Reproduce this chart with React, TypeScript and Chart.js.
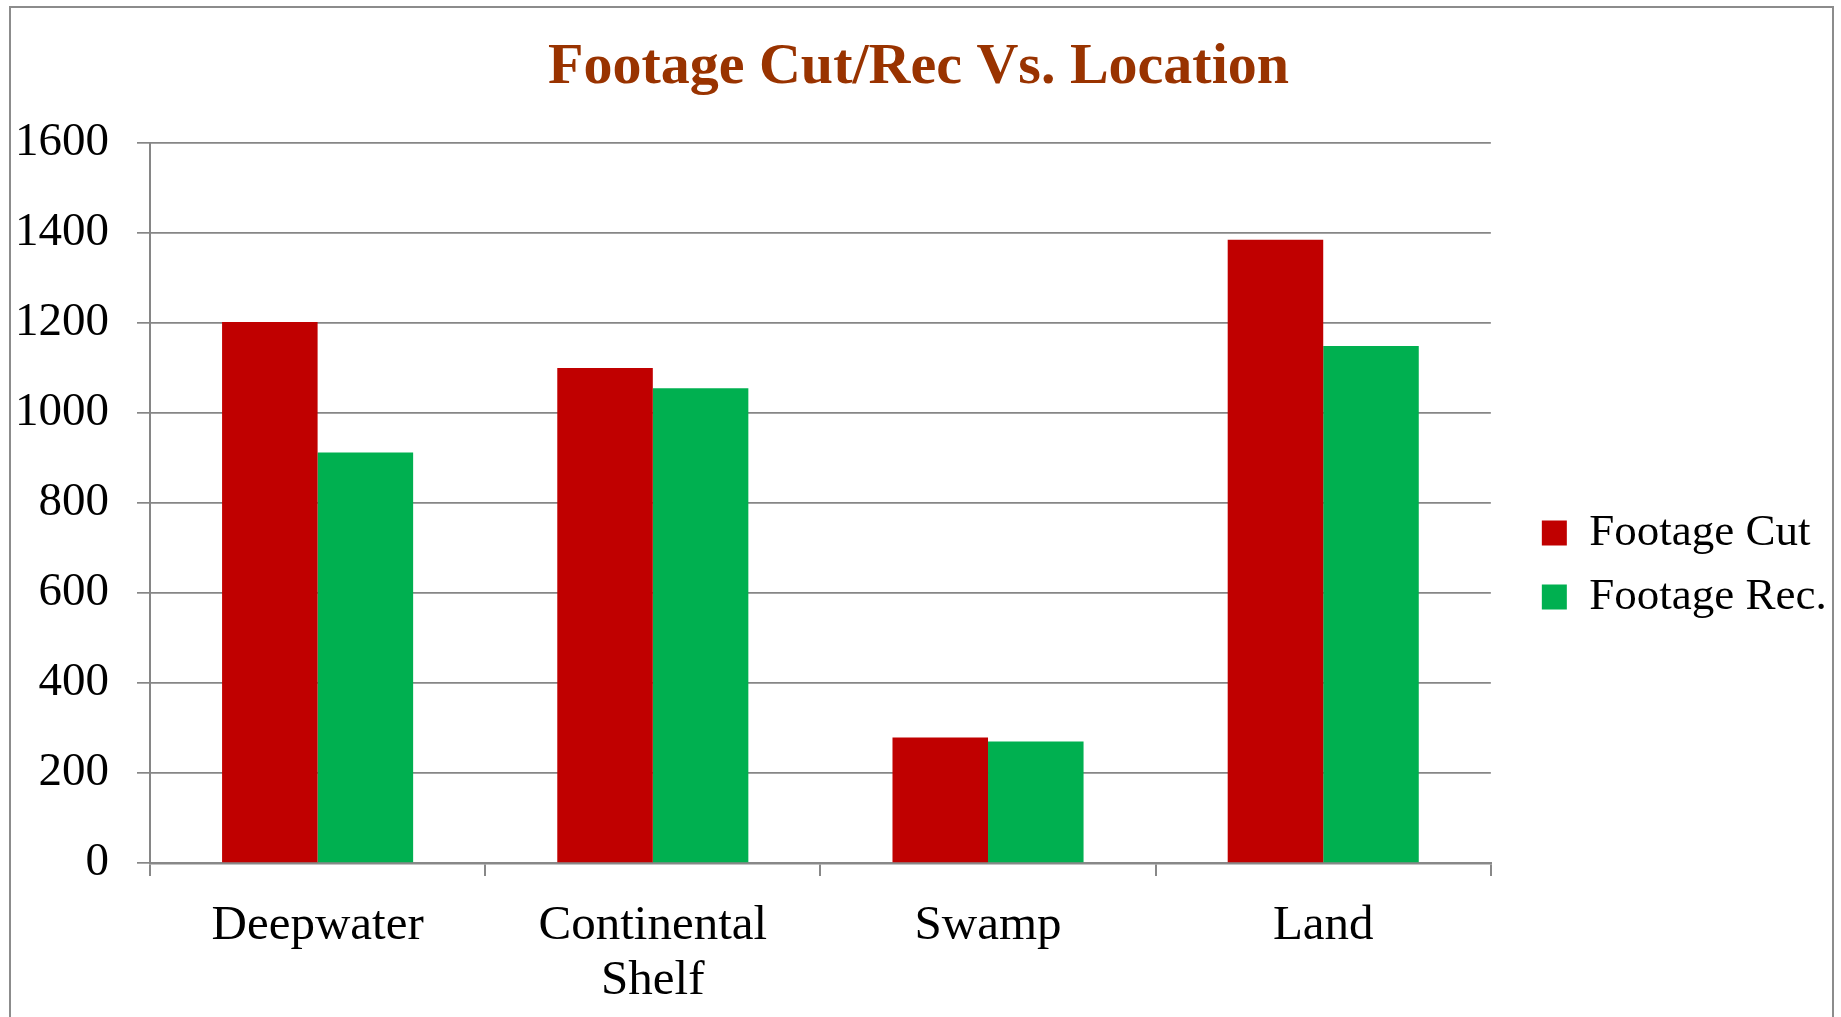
import React, { useEffect, useRef } from "react";
import { Chart, registerables } from "chart.js";

Chart.register(...registerables);

const categories: (string | string[])[] = ["Deepwater", ["Continental", "Shelf"], "Swamp", "Land"];
const footageCut: number[] = [1202, 1100, 279, 1385];
const footageRec: number[] = [912, 1055, 270, 1149];
const yTicks: number[] = [0, 200, 400, 600, 800, 1000, 1200, 1400, 1600];

const SERIF = "'Liberation Serif', 'Times New Roman', serif";

export default function App() {
  const ref = useRef<HTMLCanvasElement | null>(null);

  useEffect(() => {
    if (!ref.current) return;
    const chart = new Chart(ref.current, {
      type: "bar",
      data: {
        labels: categories,
        datasets: [
          {
            label: "Footage Cut",
            data: footageCut,
            backgroundColor: "#C00000",
            borderWidth: 0,
            categoryPercentage: 0.57,
            barPercentage: 1.0,
          },
          {
            label: "Footage Rec.",
            data: footageRec,
            backgroundColor: "#00B050",
            borderWidth: 0,
            categoryPercentage: 0.57,
            barPercentage: 1.0,
          },
        ],
      },
      options: {
        responsive: false,
        animation: false,
        devicePixelRatio: 1,
        layout: { padding: { left: 12, right: 16, top: 0, bottom: 0 } },
        plugins: {
          title: {
            display: true,
            text: "Footage Cut/Rec Vs. Location",
            color: "#993300",
            font: { family: SERIF, size: 58, weight: "bold", lineHeight: 1.2 },
            padding: { top: 33.5, bottom: 39.9 },
          },
          legend: {
            display: true,
            position: "right",
            align: "center",
            title: {
              display: true,
              text: "",
              font: { size: 10, lineHeight: 1 },
              padding: { top: 103, bottom: 0 },
            },
            labels: {
              color: "#000",
              font: { family: SERIF, size: 45 },
              boxWidth: 25,
              boxHeight: 25,
              padding: 19,
            },
          },
          tooltip: { enabled: false },
        },
        scales: {
          x: {
            ticks: {
              color: "#000",
              font: { family: SERIF, size: 49, lineHeight: 1.12 },
              padding: 23,
              maxRotation: 0,
              autoSkip: false,
            },
            grid: {
              display: true,
              drawOnChartArea: false,
              drawTicks: true,
              tickLength: 13,
              color: "#888888",
              lineWidth: 2,
              offset: true,
            },
            border: { display: true, color: "#888888", width: 2.5 },
            afterFit: (s: any) => {
              s.height = 154;
            },
          },
          y: {
            min: 0,
            max: 1600,
            afterBuildTicks: (s: any) => {
              s.ticks = yTicks.map((v) => ({ value: v }));
            },
            ticks: {
              color: "#000",
              font: { family: SERIF, size: 47 },
              padding: 28,
              callback: (v: any) => String(v),
            },
            grid: {
              color: "#868686",
              lineWidth: 1.7,
              drawTicks: true,
              tickLength: 13,
            },
            border: { display: true, color: "#868686", width: 2 },
            afterFit: (s: any) => {
              s.width = 138;
            },
          },
          y2: {
            position: "right",
            display: true,
            grid: { display: false, drawTicks: false },
            ticks: { display: false },
            border: { display: false },
            afterFit: (s: any) => {
              s.width = 32;
            },
          },
        },
      },
    } as any);
    return () => chart.destroy();
  }, []);

  return (
    <>
      <div
        style={{
          position: "fixed",
          left: 9,
          top: 6,
          width: 1825,
          height: 1040,
          border: "2px solid #8c8c8c",
          boxSizing: "border-box",
          background: "#fff",
        }}
      />
      <div style={{ position: "fixed", left: 0, top: 0, width: 1841, height: 1017 }}>
        <canvas ref={ref} width={1841} height={1017} style={{ width: 1841, height: 1017, display: "block" }} />
      </div>
    </>
  );
}
